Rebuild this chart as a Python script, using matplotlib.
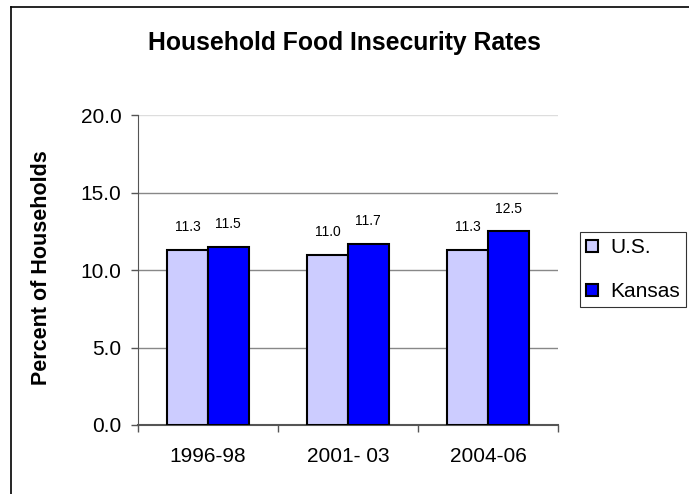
import matplotlib.pyplot as plt
import numpy as np

plt.rcParams['font.family'] = ['Liberation Sans', 'DejaVu Sans']

periods = ['1996-98', '2001- 03', '2004-06']
us_rates = [11.3, 11.0, 11.3]
kansas_rates = [11.5, 11.7, 12.5]
y_ticks = [0, 5, 10, 15, 20]

fig = plt.figure(figsize=(6.89, 4.94), dpi=100)
ax = fig.add_axes([138 / 689, 1 - 425 / 494, 420 / 689, 310 / 494])

x = np.arange(len(periods))
w = 0.29
b1 = ax.bar(x - w / 2, us_rates, w, color='#CCCCFF', edgecolor='black', linewidth=1.5, label='U.S.', zorder=3)
b2 = ax.bar(x + w / 2, kansas_rates, w, color='#0000FF', edgecolor='black', linewidth=1.5, label='Kansas', zorder=3)

for bars, vals in ((b1, us_rates), (b2, kansas_rates)):
    for r, v in zip(bars, vals):
        ax.text(r.get_x() + r.get_width() / 2, v + 1.45, f'{v:.1f}', ha='center', va='center', fontsize=10)

ax.set_xlim(-0.5, 2.5)
ax.set_ylim(0, 20)
ax.set_yticks(y_ticks)
ax.set_yticklabels([f'{t:.1f}' for t in y_ticks], fontsize=15)
ax.set_xticks(x)
ax.set_xticklabels(periods, fontsize=15)
ax.tick_params(axis='x', length=0, pad=16)
ax.tick_params(axis='y', length=5, width=1, color='#555555', pad=7)
# category boundary ticks
ax.set_xticks([-0.5, 0.5, 1.5, 2.5], minor=True)
ax.tick_params(axis='x', which='minor', length=5, width=1, color='#555555')

for t in y_ticks[1:]:
    ax.axhline(t, color='#888888' if t < 20 else '#dddddd', linewidth=1, zorder=1)

for s in ('top', 'right'):
    ax.spines[s].set_visible(False)
ax.spines['left'].set_color('#555555')
ax.spines['bottom'].set_color('#555555')
ax.spines['bottom'].set_linewidth(1.5)

ax.set_ylabel('Percent of Households', fontsize=15.5, fontweight='bold', labelpad=14)
ax.yaxis.set_label_coords(52 / 689, 1 - 268 / 494, transform=fig.transFigure)
fig.text(344 / 689, 1 - 43 / 494, 'Household Food Insecurity Rates',
         ha='center', va='center', fontsize=17.8, fontweight='bold')

leg = ax.legend(loc='upper left', bbox_to_anchor=(580 / 689, 1 - 232 / 494), bbox_transform=fig.transFigure,
                fontsize=15, frameon=True, fancybox=False, edgecolor='black', borderaxespad=0,
                handlelength=0.55, handleheight=0.55, handletextpad=0.6, borderpad=0.3, labelspacing=1.2)
leg.get_frame().set_linewidth(0.8)

# outer border (top and left edges visible)
fig.add_artist(plt.Line2D([11 / 689, 11 / 689], [0, 1 - 7 / 494], color='black', linewidth=1.2))
fig.add_artist(plt.Line2D([11 / 689, 1], [1 - 7 / 494, 1 - 7 / 494], color='black', linewidth=1.2))

fig.savefig('out.png', dpi=100)
